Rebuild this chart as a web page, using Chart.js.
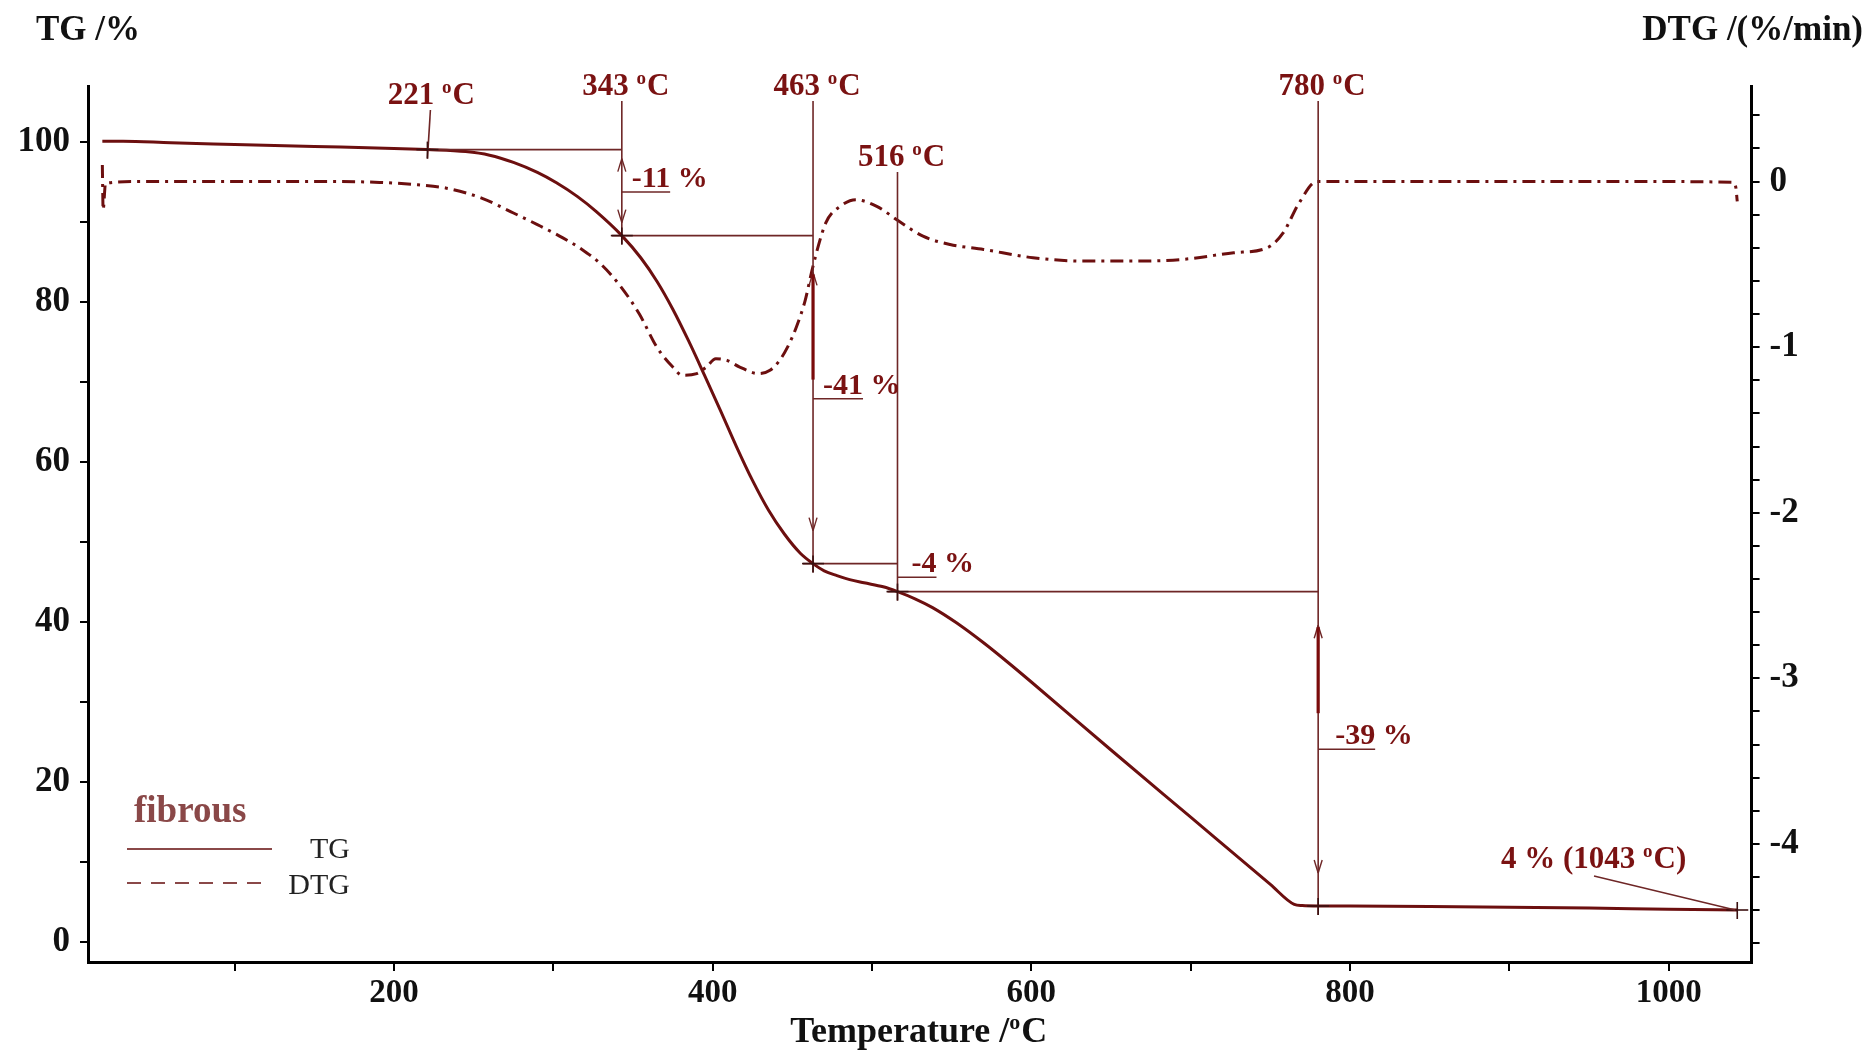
<!DOCTYPE html>
<html>
<head>
<meta charset="utf-8">
<title>TG / DTG – fibrous</title>
<script src="https://cdn.jsdelivr.net/npm/chart.js@4.4.1/dist/chart.umd.min.js"></script>
<style>
  html, body { margin: 0; padding: 0; background: #ffffff; }
  #wrap { width: 1872px; height: 1052px; position: relative; }
</style>
</head>
<body>
<div id="wrap"><canvas id="c" width="1872" height="1052"></canvas></div>
<script>
// ---- data -------------------------------------------------------------
// TG curve: temperature (°C) and residual mass (%)
const tgTemp   = [17, 30, 60, 100, 150, 200, 221, 245, 260, 275, 290, 302, 315, 327, 343, 355, 365, 375, 385, 395, 405, 415, 425, 435, 445, 455, 463, 470, 478, 486, 495, 507, 516, 527, 538, 553, 570, 585, 600, 650, 700, 750, 765, 770, 780, 800, 850, 900, 950, 1000, 1043];
const tgValues = [100.1, 100.1, 99.9, 99.7, 99.45, 99.2, 99.05, 98.8, 98.35, 97.45, 96.2, 94.9, 93.2, 91.3, 88.3, 85.5, 82.6, 79.1, 75.1, 70.8, 66.4, 61.9, 57.7, 54.0, 51.0, 48.6, 47.3, 46.4, 45.8, 45.3, 44.9, 44.4, 43.8, 42.9, 41.8, 39.9, 37.4, 35.0, 32.5, 24.0, 15.6, 7.2, 4.7, 4.55, 4.5, 4.5, 4.45, 4.35, 4.25, 4.1, 4.0];

// DTG curve: temperature (°C) and rate of mass change (%/min)
const dtgTemp   = [17, 17.5, 19, 40, 80, 120, 160, 191, 215, 233, 255, 275, 290, 306, 318, 330, 342, 354, 365, 375, 381, 390, 396, 402, 409, 417, 429, 436, 442, 447, 452.5, 458, 463, 471, 480, 490, 503, 517, 532, 549, 570, 601, 632, 664, 695, 727, 748, 758, 768, 779, 800, 850, 900, 950, 1000, 1040, 1042, 1043];
const dtgValues = [0.10, -0.17, -0.01, 0.0, 0.0, 0.0, 0.0, -0.005, -0.02, -0.04, -0.10, -0.19, -0.26, -0.34, -0.41, -0.50, -0.63, -0.80, -1.0, -1.12, -1.17, -1.16, -1.12, -1.07, -1.08, -1.12, -1.16, -1.14, -1.08, -1.0, -0.88, -0.72, -0.51, -0.25, -0.15, -0.11, -0.15, -0.24, -0.33, -0.38, -0.41, -0.46, -0.48, -0.48, -0.47, -0.43, -0.40, -0.31, -0.13, 0.0, 0.0, 0.0, 0.0, 0.0, 0.0, -0.005, -0.03, -0.12];

// axis tick labels
const xTickLabels   = [200, 400, 600, 800, 1000];
const tgTickLabels  = [0, 20, 40, 60, 80, 100];
const dtgTickLabels = [0, -1, -2, -3, -4];

// decomposition steps: onset temperatures, TG level there, and mass losses
const stepTemps  = [221, 343, 463, 516, 780];
const stepTG     = [99.05, 88.3, 47.3, 43.8, 4.5];
const stepLabels = ['221 °C', '343 °C', '463 °C', '516 °C', '780 °C'];
const lossLabels = ['-11 %', '-41 %', '-4 %', '-39 %'];
const residueTemp  = 1043;
const residueTG    = 4.0;
const residueLabel = '4 % (1043 °C)';

const sampleName = 'fibrous';
const seriesNames = ['TG', 'DTG'];

// ---- styling ----------------------------------------------------------
const SERIF = '"Liberation Serif", "Times New Roman", serif';
const CURVE = '#6c0f0f';
const NOTE  = '#7a1212';
const GUIDE = '#6e2626';
const LEGEND = '#8a4848';

// text with '°' rendered as a small raised 'o'
function drawDegText(ctx, text, x, y, size, weight, align) {
  const main = `${weight} ${size}px ${SERIF}`;
  const sup  = `${weight} ${Math.round(size * 0.62)}px ${SERIF}`;
  const parts = text.split('°');
  let total = 0;
  parts.forEach((p, i) => {
    ctx.font = main; total += ctx.measureText(p).width;
    if (i < parts.length - 1) { ctx.font = sup; total += ctx.measureText('o').width + 1; }
  });
  let cx = align === 'center' ? x - total / 2 : align === 'right' ? x - total : x;
  ctx.textAlign = 'left';
  parts.forEach((p, i) => {
    ctx.font = main; ctx.fillText(p, cx, y); cx += ctx.measureText(p).width;
    if (i < parts.length - 1) {
      ctx.font = sup; ctx.fillText('o', cx, y - size * 0.36);
      cx += ctx.measureText('o').width + 1;
    }
  });
  return total;
}

function line(ctx, x1, y1, x2, y2) {
  ctx.beginPath(); ctx.moveTo(x1, y1); ctx.lineTo(x2, y2); ctx.stroke();
}
function cross(ctx, x, y) {
  line(ctx, x - 11, y, x + 11, y);
  line(ctx, x, y - 8, x, y + 9);
}
function vHead(ctx, x, y, up) {
  const d = up ? 1 : -1;
  line(ctx, x, y, x - 4, y + d * 13);
  line(ctx, x, y, x + 4, y + d * 13);
}

// annotations: step markers, mass-loss arrows, titles and legend
const annotate = {
  id: 'annotate',
  afterDatasetsDraw(chart) {
    const ctx = chart.ctx;
    const X = v => chart.scales.x.getPixelForValue(v);
    const Y = v => chart.scales.y.getPixelForValue(v);
    ctx.save();
    ctx.textBaseline = 'alphabetic';

    // onset temperature labels and their leader lines
    const labelBase = [104, 95, 95, 166, 95];
    ctx.fillStyle = NOTE;
    stepTemps.forEach((t, i) => {
      drawDegText(ctx, stepLabels[i], X(t) + 4, labelBase[i], 31, 'bold', 'center');
    });
    ctx.strokeStyle = GUIDE;
    ctx.lineWidth = 1.6;
    stepTemps.forEach((t, i) => {
      const top = labelBase[i] + 6;
      const slant = i === 0 ? 3 : 0;
      line(ctx, X(t) + slant, top, X(t), Y(stepTG[i]) + 9);
    });

    // horizontal level lines between successive steps
    line(ctx, X(stepTemps[0]), Y(stepTG[0]), X(stepTemps[1]), Y(stepTG[0]));
    for (let i = 1; i < stepTemps.length - 1; i++) {
      line(ctx, X(stepTemps[i]) - 10, Y(stepTG[i]), X(stepTemps[i + 1]), Y(stepTG[i]));
    }

    // markers on the TG curve
    ctx.strokeStyle = '#3a1010';
    ctx.lineWidth = 1.6;
    stepTemps.forEach((t, i) => cross(ctx, X(t), Y(stepTG[i])));
    cross(ctx, X(residueTemp), Y(residueTG));

    // double arrows showing each mass loss
    const arrows = [
      { t: 343, up: 99.05, upOff: 9,  down: 88.3, downOff: -13, thick: null },
      { t: 463, up: 83.7,  upOff: 0,  down: 47.3, downOff: -33, thick: [83.7, 70.3] },
      { t: 780, up: 39.6,  upOff: 0,  down: 4.5,  downOff: -33, thick: [39.6, 28.6] }
    ];
    arrows.forEach(a => {
      const x = X(a.t);
      ctx.strokeStyle = GUIDE; ctx.lineWidth = 1.4;
      vHead(ctx, x, Y(a.up) + a.upOff, true);
      vHead(ctx, x, Y(a.down) + a.downOff, false);
      if (a.thick) {
        ctx.strokeStyle = '#7a0b0b'; ctx.lineWidth = 3.2;
        line(ctx, x, Y(a.thick[0]) + 2, x, Y(a.thick[1]));
      }
    });

    // mass-loss labels with underline leaders (underline level in TG units)
    const lossAt   = [93.75, 67.9, 45.6, 24.1];
    const lossTemp = [343, 463, 516, 780];
    const lossGap  = [10, 10, 14, 17];
    lossLabels.forEach((s, i) => {
      const x0 = X(lossTemp[i]);
      const yU = Y(lossAt[i]);
      ctx.font = `bold 30px ${SERIF}`;
      ctx.fillStyle = NOTE;
      ctx.textAlign = 'left';
      const num = s.split(' ')[0];
      ctx.fillText(s, x0 + lossGap[i], yU - 5);
      const wNum = ctx.measureText(num).width;
      ctx.strokeStyle = GUIDE; ctx.lineWidth = 1.6;
      line(ctx, x0, yU, x0 + lossGap[i] + wNum, yU);
    });

    // final residue
    ctx.fillStyle = NOTE;
    drawDegText(ctx, residueLabel, 1501, 868, 31, 'bold', 'left');
    ctx.strokeStyle = GUIDE; ctx.lineWidth = 1.4;
    line(ctx, 1594, 876, X(residueTemp) - 2, Y(residueTG));

    // axis titles
    ctx.fillStyle = '#111';
    ctx.font = `bold 35px ${SERIF}`;
    ctx.textAlign = 'left';
    ctx.fillText('TG /%', 36, 40);
    ctx.textAlign = 'right';
    ctx.fillText('DTG /(%/min)', 1863, 40);
    ctx.textAlign = 'left';
    const xa = chart.chartArea;
    drawDegText(ctx, 'Temperature /°C', (xa.left + xa.right) / 2 - 1, 1042, 36, 'bold', 'center');

    // legend
    ctx.fillStyle = LEGEND;
    ctx.font = `bold 37px ${SERIF}`;
    ctx.textAlign = 'left';
    ctx.fillText(sampleName, 134, 822);
    ctx.strokeStyle = LEGEND; ctx.lineWidth = 2;
    line(ctx, 127, 849, 272, 849);
    ctx.setLineDash([14, 10]);
    line(ctx, 127, 883, 270, 883);
    ctx.setLineDash([]);
    ctx.fillStyle = '#222';
    ctx.font = `30px ${SERIF}`;
    ctx.textAlign = 'right';
    ctx.fillText(seriesNames[0], 350, 858);
    ctx.fillText(seriesNames[1], 350, 894);

    ctx.restore();
  }
};

const xTickFont = { family: SERIF, size: 33, weight: 'bold' };
const yTickFont = { family: SERIF, size: 35, weight: 'bold' };

new Chart(document.getElementById('c'), {
  type: 'line',
  data: {
    datasets: [
      {
        label: seriesNames[0],
        data: tgTemp.map((t, i) => ({ x: t, y: tgValues[i] })),
        yAxisID: 'y',
        borderColor: CURVE,
        borderWidth: 3,
        pointRadius: 0,
        cubicInterpolationMode: 'monotone',
        fill: false
      },
      {
        label: seriesNames[1],
        data: dtgTemp.map((t, i) => ({ x: t, y: dtgValues[i] })),
        yAxisID: 'y2',
        borderColor: CURVE,
        borderWidth: 3,
        borderDash: [13, 6, 3, 6],
        pointRadius: 0,
        cubicInterpolationMode: 'monotone',
        fill: false
      }
    ]
  },
  options: {
    responsive: false,
    animation: false,
    devicePixelRatio: 1,
    layout: { padding: { top: 86, left: 0, right: 0, bottom: 0 } },
    plugins: { legend: { display: false }, tooltip: { enabled: false }, title: { display: false } },
    scales: {
      x: {
        type: 'linear',
        min: 8, max: 1052,
        afterBuildTicks: s => { s.ticks = [100, 200, 300, 400, 500, 600, 700, 800, 900, 1000].map(v => ({ value: v })); },
        afterFit: s => { s.height = 90; },
        ticks: {
          autoSkip: false, maxRotation: 0, padding: 3,
          font: xTickFont, color: '#111',
          callback: v => xTickLabels.includes(v) ? String(v) : ''
        },
        grid: { drawOnChartArea: false, drawTicks: true, tickLength: 9, color: '#000', lineWidth: 2 },
        border: { display: true, color: '#000', width: 3 }
      },
      y: {
        type: 'linear', position: 'left',
        min: -2.5, max: 107,
        afterBuildTicks: s => { s.ticks = [0, 10, 20, 30, 40, 50, 60, 70, 80, 90, 100].map(v => ({ value: v })); },
        afterFit: s => { s.width = 88; },
        ticks: {
          autoSkip: false, padding: 10,
          font: yTickFont, color: '#111',
          callback: v => tgTickLabels.includes(v) ? String(v) : ''
        },
        grid: { drawOnChartArea: false, drawTicks: true, tickLength: 8, color: '#000', lineWidth: 2 },
        border: { display: true, color: '#000', width: 3 }
      },
      y2: {
        type: 'linear', position: 'right',
        min: -4.713, max: 0.577,
        afterBuildTicks: s => {
          const t = [];
          for (let i = 2; i >= -23; i--) t.push({ value: i / 5 });
          s.ticks = t;
        },
        afterFit: s => { s.width = 120.4; },
        ticks: {
          autoSkip: false, padding: 10,
          font: yTickFont, color: '#111',
          callback: v => {
            const r = Math.round(v);
            if (Math.abs(v - r) > 1e-6 || !dtgTickLabels.includes(r)) return '';
            return r === 0 ? '0' : '-' + Math.abs(r);
          }
        },
        grid: { drawOnChartArea: false, drawTicks: true, tickLength: 8, color: '#000', lineWidth: 2 },
        border: { display: true, color: '#000', width: 3 }
      }
    }
  },
  plugins: [annotate]
});
</script>
</body>
</html>
